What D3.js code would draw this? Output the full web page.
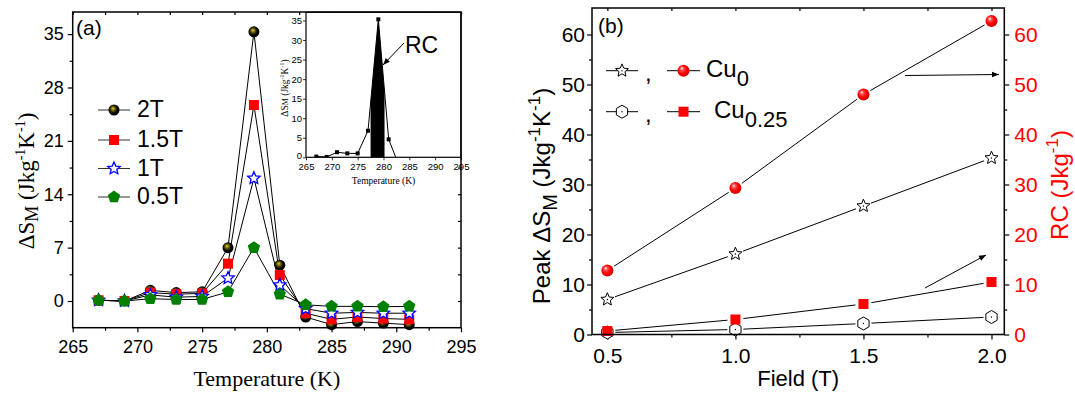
<!DOCTYPE html>
<html lang="en">
<head>
<meta charset="utf-8">
<title>Entropy change and RC</title>
<script src="https://d3js.org/d3.v7.min.js"></script>
<style>
  body { margin: 0; background: #fff; }
</style>
</head>
<body>
<script>

// ---- data, panel (a) ----
const tempA = [267, 269, 271, 273, 275, 277, 279, 281, 283, 285, 287, 289, 291];
const ds2T  = [0.1, 0, 1.4, 1.1, 1.2, 7.0, 35.3, 4.7, -2.1, -3.1, -2.7, -2.9, -3.1];
const ds15T = [0.1, 0, 1.1, 0.9, 1.0, 4.9, 25.7, 3.4, -1.6, -2.4, -2.1, -2.3, -2.4];
const ds1T  = [0.1, 0, 0.8, 0.5, 0.6, 3.0, 16.1, 2.1, -1.0, -1.6, -1.5, -1.6, -1.6];
const ds05T = [0.1, 0, 0.3, 0.2, 0.2, 1.2, 7.0, 0.9, -0.5, -0.7, -0.7, -0.75, -0.7];
const seriesNames = ["2T", "1.5T", "1T", "0.5T"];
const xTicksA = [265, 270, 275, 280, 285, 290, 295];
const yTicksA = [0, 7, 14, 21, 28, 35];

// inset (2T curve, RC area)
const tempIn = [267, 269, 271, 273, 275, 277, 279, 281, 283];
const dsIn   = [0.2, 0.1, 1.3, 1.0, 1.0, 6.8, 35.3, 4.6, -2.1];
const rcRange = [277.5, 280.2];
const yTicksIn = [0, 5, 10, 15, 20, 25, 30, 35];

// ---- data, panel (b) ----
const fields = [0.5, 1.0, 1.5, 2.0];
const peakCu0   = [7.0, 16.1, 25.7, 35.3];
const rcCu0     = [12.8, 29.3, 48.0, 62.7];
const peakCu025 = [0.4, 1.0, 2.2, 3.5];
const rcCu025   = [0.7, 3.0, 6.1, 10.5];
const xTicksB = [0.5, 1.0, 1.5, 2.0];
const yTicksB = [0, 10, 20, 30, 40, 50, 60];

const W = 1075, H = 394;
const SANS = "'Liberation Sans', Arial, sans-serif";
const SERIF = "'Liberation Serif', 'Times New Roman', serif";

const svg = d3.select("body").append("svg")
  .attr("width", W).attr("height", H)
  .attr("font-family", SANS);

const defs = svg.append("defs");

const gBlack = defs.append("radialGradient").attr("id", "ballBlack")
  .attr("cx", "45%").attr("cy", "45%").attr("r", "60%").attr("fx", "40%").attr("fy", "35%");
gBlack.append("stop").attr("offset", "0%").attr("stop-color", "#e6d640");
gBlack.append("stop").attr("offset", "30%").attr("stop-color", "#6a6000");
gBlack.append("stop").attr("offset", "65%").attr("stop-color", "#000");

const gRed = defs.append("radialGradient").attr("id", "ballRed")
  .attr("cx", "45%").attr("cy", "45%").attr("r", "60%").attr("fx", "35%").attr("fy", "30%");
gRed.append("stop").attr("offset", "0%").attr("stop-color", "#fff");
gRed.append("stop").attr("offset", "25%").attr("stop-color", "#ff5050");
gRed.append("stop").attr("offset", "60%").attr("stop-color", "#f00");
gRed.append("stop").attr("offset", "100%").attr("stop-color", "#c00");

defs.append("marker").attr("id", "arrow")
  .attr("viewBox", "0 0 10 10").attr("refX", 10).attr("refY", 5)
  .attr("markerWidth", 9).attr("markerHeight", 7).attr("markerUnits", "userSpaceOnUse")
  .attr("orient", "auto")
  .append("path").attr("d", "M0,1L10,5L0,9Z").attr("fill", "#000");

// shapes
function poly(n, r, rot) {
  const pts = d3.range(n).map(i => {
    const a = rot + i * 2 * Math.PI / n;
    return [r * Math.cos(a), r * Math.sin(a)];
  });
  return "M" + pts.map(p => p[0].toFixed(2) + "," + p[1].toFixed(2)).join("L") + "Z";
}
function star(r, ri) {
  const pts = d3.range(10).map(i => {
    const a = -Math.PI / 2 + i * Math.PI / 5;
    const rr = i % 2 ? ri : r;
    return [rr * Math.cos(a), rr * Math.sin(a)];
  });
  return "M" + pts.map(p => p[0].toFixed(2) + "," + p[1].toFixed(2)).join("L") + "Z";
}

function drawMarker(g, type, x, y, s) {
  const m = g.append("g").attr("transform", `translate(${x},${y})`);
  if (type === "ballBlack") {
    m.append("circle").attr("r", 5.5 * s).attr("fill", "url(#ballBlack)");
  } else if (type === "ballRed") {
    m.append("circle").attr("r", 6 * s).attr("fill", "url(#ballRed)");
  } else if (type === "square") {
    m.append("rect").attr("x", -5 * s).attr("y", -5 * s).attr("width", 10 * s).attr("height", 10 * s).attr("fill", "#f00");
  } else if (type === "starBlue") {
    m.append("path").attr("d", star(6.5 * s, 3 * s)).attr("fill", "#fff").attr("stroke", "#00f").attr("stroke-width", 1.3);
  } else if (type === "pentagon") {
    m.append("path").attr("d", poly(5, 6.5 * s, -Math.PI / 2)).attr("fill", "#008000");
  } else if (type === "starOpen") {
    m.append("path").attr("d", star(6.8 * s, 3.1 * s)).attr("fill", "#fff").attr("stroke", "#000").attr("stroke-width", 1);
    m.append("circle").attr("r", 0.7).attr("fill", "#000");
  } else if (type === "hexOpen") {
    m.append("path").attr("d", poly(6, 6.5 * s, -Math.PI / 2)).attr("fill", "#fff").attr("stroke", "#000").attr("stroke-width", 1);
    m.append("circle").attr("r", 0.7).attr("fill", "#000");
  }
}

function styleAxis(g, size, family, color) {
  g.select(".domain").remove();
  g.attr("font-size", size).attr("font-family", family);
  g.selectAll("line").attr("stroke", "#000").attr("stroke-width", 1.2);
  g.selectAll("text").attr("fill", color || "#000");
}

// ===================== panel (a) =====================
const A = {l: 72.7, r: 461, t: 12, b: 327.7};
const xA = d3.scaleLinear().domain([265, 295]).range([A.l, A.r]);
const yA = d3.scaleLinear().domain([-3.5, 37.9]).range([A.b, A.t]);
const minorXA = xTicksA.slice(0, -1).map(v => v + 2.5);
const minorYA = yTicksA.map(v => v + 3.5).filter(v => v < 37.9);

svg.append("g").attr("transform", `translate(0,${A.b})`)
  .call(d3.axisBottom(xA).tickValues(xTicksA).tickSize(4.5).tickSizeOuter(0).tickPadding(8).tickFormat(d3.format("d")))
  .call(g => styleAxis(g, 18, SANS));
svg.append("g").attr("transform", `translate(0,${A.b})`)
  .call(d3.axisBottom(xA).tickValues(minorXA).tickSize(3).tickSizeOuter(0).tickFormat(""))
  .call(g => styleAxis(g, 18, SANS));
svg.append("g").attr("transform", `translate(0,${A.t})`)
  .call(d3.axisTop(xA).tickValues(xTicksA.concat(minorXA)).tickSize(-3).tickSizeOuter(0).tickFormat(""))
  .call(g => styleAxis(g, 18, SANS));
svg.append("g").attr("transform", `translate(${A.l},0)`)
  .call(d3.axisLeft(yA).tickValues(yTicksA).tickSize(5).tickSizeOuter(0).tickPadding(4))
  .call(g => styleAxis(g, 18, SANS));
svg.append("g").attr("transform", `translate(${A.l},0)`)
  .call(d3.axisLeft(yA).tickValues(minorYA).tickSize(3).tickSizeOuter(0).tickFormat(""))
  .call(g => styleAxis(g, 18, SANS));
svg.append("g").attr("transform", `translate(${A.r},0)`)
  .call(d3.axisRight(yA).tickValues(yTicksA.concat(minorYA)).tickSize(-3).tickSizeOuter(0).tickFormat(""))
  .call(g => styleAxis(g, 18, SANS));

const seriesA = [
  {vals: ds2T, marker: "ballBlack"},
  {vals: ds15T, marker: "square"},
  {vals: ds1T, marker: "starBlue"},
  {vals: ds05T, marker: "pentagon"}
];
const lineA = d3.line().x(d => xA(d[0])).y(d => yA(d[1]));
const plotA = svg.append("g");
seriesA.forEach(s => {
  plotA.append("path").attr("d", lineA(tempA.map((t, i) => [t, s.vals[i]])))
    .attr("fill", "none").attr("stroke", "#000").attr("stroke-width", 1);
});
seriesA.forEach(s => {
  tempA.forEach((t, i) => drawMarker(plotA, s.marker, xA(t), yA(s.vals[i]), 1));
});

// legend (a)
const legA = svg.append("g");
seriesNames.forEach((name, i) => {
  const y = [110, 140, 168.5, 197][i];
  legA.append("line").attr("x1", 98).attr("x2", 130).attr("y1", y).attr("y2", y)
    .attr("stroke", "#333").attr("stroke-width", 1);
  drawMarker(legA, seriesA[i].marker, 114, y, 1);
  legA.append("text").attr("x", 137).attr("y", y + 7).attr("font-size", 23).text(name);
});

svg.append("text").attr("x", 76).attr("y", 35).attr("font-size", 21).text("(a)");

svg.append("text").attr("x", (A.l + A.r) / 2).attr("y", 386)
  .attr("text-anchor", "middle").attr("font-family", SERIF).attr("font-size", 22)
  .text("Temperature (K)");

const ylA = svg.append("text").attr("transform", "translate(34,181) rotate(-90)")
  .attr("text-anchor", "middle").attr("font-family", SERIF).attr("font-size", 23);
ylA.append("tspan").text("\u0394S");
ylA.append("tspan").attr("dy", 4).attr("font-size", 18).text("M");
ylA.append("tspan").attr("dy", -4).text(" (Jkg");
ylA.append("tspan").attr("dy", -9).attr("font-size", 14).text("-1");
ylA.append("tspan").attr("dy", 9).text("K");
ylA.append("tspan").attr("dy", -9).attr("font-size", 14).text("-1");
ylA.append("tspan").attr("dy", 9).text(")");

// ---- inset ----
const I = {l: 306, r: 461, t: 12.3, b: 157.3};
const xI = d3.scaleLinear().domain([265, 295]).range([I.l, I.r]);
const yI = d3.scaleLinear().domain([0, 37.1]).range([I.b, I.t]);

svg.append("rect").attr("x", I.l).attr("y", I.t).attr("width", I.r - I.l).attr("height", I.b - I.t)
  .attr("fill", "#fff");
defs.append("clipPath").attr("id", "clipIn").append("rect")
  .attr("x", I.l).attr("y", I.t).attr("width", I.r - I.l).attr("height", I.b - I.t);

const insetPts = tempIn.map((t, i) => [t, dsIn[i]]);
function interpIn(t) {
  const j = d3.bisectRight(tempIn, t) - 1;
  const f = (t - tempIn[j]) / (tempIn[j + 1] - tempIn[j]);
  return dsIn[j] + f * (dsIn[j + 1] - dsIn[j]);
}
const areaPts = [[rcRange[0], 0], [rcRange[0], interpIn(rcRange[0])]]
  .concat(insetPts.filter(p => p[0] > rcRange[0] && p[0] < rcRange[1]))
  .concat([[rcRange[1], interpIn(rcRange[1])], [rcRange[1], 0]]);
const lineI = d3.line().x(d => xI(d[0])).y(d => yI(d[1]));
const plotI = svg.append("g").attr("clip-path", "url(#clipIn)");
plotI.append("path").attr("d", lineI(areaPts) + "Z").attr("fill", "#000");
plotI.append("path").attr("d", lineI(insetPts)).attr("fill", "none").attr("stroke", "#000").attr("stroke-width", 1);
plotI.selectAll("rect.pt").data(insetPts).join("rect").attr("class", "pt")
  .attr("x", d => xI(d[0]) - 2).attr("y", d => yI(d[1]) - 2).attr("width", 4).attr("height", 4).attr("fill", "#000");

svg.append("g").attr("class", "inax").attr("transform", `translate(0,${I.b})`)
  .call(d3.axisBottom(xI).tickValues(xTicksA).tickSize(3).tickSizeOuter(0).tickPadding(2.5).tickFormat(d3.format("d")))
  .call(g => styleAxis(g, 9.5, SANS));
svg.append("g").attr("class", "inax").attr("transform", `translate(${I.l},0)`)
  .call(d3.axisLeft(yI).tickValues(yTicksIn).tickSize(3).tickSizeOuter(0).tickPadding(1))
  .call(g => styleAxis(g, 9.5, SANS));
svg.selectAll("g.inax line").attr("stroke-width", 0.8);
svg.selectAll("g.inax text").filter(d => d === 0).attr("dy", "0.1em");

svg.append("rect").attr("x", I.l).attr("y", I.t).attr("width", I.r - I.l).attr("height", I.b - I.t)
  .attr("fill", "none").attr("stroke", "#000").attr("stroke-width", 1.2);

svg.append("text").attr("x", (I.l + I.r) / 2).attr("y", 184)
  .attr("text-anchor", "middle").attr("font-family", SERIF).attr("font-size", 9.5)
  .text("Temperature (K)");
const ylI = svg.append("text").attr("transform", "translate(288,88) rotate(-90)")
  .attr("text-anchor", "middle").attr("font-family", SERIF).attr("font-size", 9.5);
ylI.append("tspan").text("\u0394S");
ylI.append("tspan").attr("font-size", 8).text("M");
ylI.append("tspan").text(" (Jkg");
ylI.append("tspan").attr("dy", -4).attr("font-size", 6).text("-1");
ylI.append("tspan").attr("dy", 4).text("K");
ylI.append("tspan").attr("dy", -4).attr("font-size", 6).text("-1");
ylI.append("tspan").attr("dy", 4).text(")");

svg.append("text").attr("x", 405).attr("y", 53).attr("font-size", 23).text("RC");
svg.append("line").attr("x1", 404).attr("y1", 43).attr("x2", 383).attr("y2", 65)
  .attr("stroke", "#000").attr("stroke-width", 1).attr("marker-end", "url(#arrow)");

svg.append("rect").attr("x", A.l).attr("y", A.t).attr("width", A.r - A.l).attr("height", A.b - A.t)
  .attr("fill", "none").attr("stroke", "#000").attr("stroke-width", 1.5);

// ===================== panel (b) =====================
const B = {l: 592, r: 1004.3, t: 8, b: 334.5};
const xB = d3.scaleLinear().domain([0.44, 2.05]).range([B.l, B.r]);
const yB = d3.scaleLinear().domain([0, 65.3]).range([B.b, B.t]);
const minorXB = [0.75, 1.25, 1.75];
const minorYB = yTicksB.map(v => v + 5).filter(v => v < 65);

svg.append("g").attr("transform", `translate(0,${B.b})`)
  .call(d3.axisBottom(xB).tickValues(xTicksB).tickSize(5).tickSizeOuter(0).tickPadding(9).tickFormat(d3.format(".1f")))
  .call(g => styleAxis(g, 21, SANS));
svg.append("g").attr("transform", `translate(0,${B.b})`)
  .call(d3.axisBottom(xB).tickValues(minorXB).tickSize(3).tickSizeOuter(0).tickFormat(""))
  .call(g => styleAxis(g, 21, SANS));
svg.append("g").attr("transform", `translate(0,${B.t})`)
  .call(d3.axisTop(xB).tickValues(xTicksB.concat(minorXB)).tickSize(-3).tickSizeOuter(0).tickFormat(""))
  .call(g => styleAxis(g, 21, SANS));
svg.append("g").attr("transform", `translate(${B.l},0)`)
  .call(d3.axisLeft(yB).tickValues(yTicksB).tickSize(5).tickSizeOuter(0).tickPadding(2))
  .call(g => styleAxis(g, 21, SANS));
svg.append("g").attr("transform", `translate(${B.l},0)`)
  .call(d3.axisLeft(yB).tickValues(minorYB).tickSize(3).tickSizeOuter(0).tickFormat(""))
  .call(g => styleAxis(g, 21, SANS));
svg.append("g").attr("transform", `translate(${B.r},0)`)
  .call(d3.axisRight(yB).tickValues(yTicksB).tickSize(5).tickSizeOuter(0).tickPadding(5))
  .call(g => styleAxis(g, 21, SANS, "#f00"));
svg.append("g").attr("transform", `translate(${B.r},0)`)
  .call(d3.axisRight(yB).tickValues(minorYB).tickSize(3).tickSizeOuter(0).tickFormat(""))
  .call(g => styleAxis(g, 21, SANS));

const seriesB = [
  {vals: rcCu0, marker: "ballRed"},
  {vals: peakCu0, marker: "starOpen"},
  {vals: rcCu025, marker: "square"},
  {vals: peakCu025, marker: "hexOpen"}
];
const plotB = svg.append("g");
const gap = 8;
seriesB.forEach(s => {
  for (let i = 0; i < fields.length - 1; i++) {
    const x1 = xB(fields[i]), y1 = yB(s.vals[i]);
    const x2 = xB(fields[i + 1]), y2 = yB(s.vals[i + 1]);
    const len = Math.hypot(x2 - x1, y2 - y1);
    const ux = (x2 - x1) / len, uy = (y2 - y1) / len;
    plotB.append("line")
      .attr("x1", x1 + ux * gap).attr("y1", y1 + uy * gap)
      .attr("x2", x2 - ux * gap).attr("y2", y2 - uy * gap)
      .attr("stroke", "#000").attr("stroke-width", 1);
  }
});
[3, 2, 1, 0].forEach(k => {
  const s = seriesB[k];
  fields.forEach((f, i) => drawMarker(plotB, s.marker, xB(f), yB(s.vals[i]), 1));
});

// arrows (b)
svg.append("line").attr("x1", 905).attr("y1", 75.5).attr("x2", 999).attr("y2", 74.5)
  .attr("stroke", "#000").attr("stroke-width", 1).attr("marker-end", "url(#arrow)");
svg.append("line").attr("x1", 925).attr("y1", 288).attr("x2", 986).attr("y2", 255)
  .attr("stroke", "#000").attr("stroke-width", 1).attr("marker-end", "url(#arrow)");

// legend (b)
const legB = svg.append("g");
[[70.7, "starOpen", "ballRed", "0", 706], [111.7, "hexOpen", "square", "0.25", 714]].forEach(r => {
  const y = r[0];
  legB.append("line").attr("x1", 606).attr("x2", 638).attr("y1", y).attr("y2", y).attr("stroke", "#000").attr("stroke-width", 1);
  drawMarker(legB, r[1], 622, y, 1);
  legB.append("text").attr("x", 645).attr("y", y + 10).attr("font-size", 24).text(",");
  legB.append("line").attr("x1", 667).attr("x2", 700).attr("y1", y).attr("y2", y).attr("stroke", "#000").attr("stroke-width", 1);
  drawMarker(legB, r[2], 683.5, y, 1);
  const t = legB.append("text").attr("x", r[4]).attr("y", y + 6).attr("font-size", 24);
  t.append("tspan").text("Cu");
  t.append("tspan").attr("dy", 9).attr("font-size", 22).text(r[3]);
});

svg.append("text").attr("x", 598).attr("y", 33).attr("font-size", 21).text("(b)");

svg.append("text").attr("x", (B.l + B.r) / 2).attr("y", 386)
  .attr("text-anchor", "middle").attr("font-size", 22).text("Field (T)");

const ylB = svg.append("text").attr("transform", "translate(550,196) rotate(-90)")
  .attr("text-anchor", "middle").attr("font-size", 24);
ylB.append("tspan").text("Peak \u0394S");
ylB.append("tspan").attr("dy", 7).attr("font-size", 20).text("M");
ylB.append("tspan").attr("dy", -7).text(" (Jkg");
ylB.append("tspan").attr("dy", -10).attr("font-size", 17).text("-1");
ylB.append("tspan").attr("dy", 10).text("K");
ylB.append("tspan").attr("dy", -10).attr("font-size", 17).text("-1");
ylB.append("tspan").attr("dy", 10).text(")");

const ylR = svg.append("text").attr("transform", "translate(1068,185) rotate(-90)")
  .attr("text-anchor", "middle").attr("font-size", 24).attr("fill", "#f00");
ylR.append("tspan").text("RC (Jkg");
ylR.append("tspan").attr("dy", -10).attr("font-size", 17).text("-1");
ylR.append("tspan").attr("dy", 10).text(")");

svg.append("rect").attr("x", B.l).attr("y", B.t).attr("width", B.r - B.l).attr("height", B.b - B.t)
  .attr("fill", "none").attr("stroke", "#000").attr("stroke-width", 1.5);

</script>
</body>
</html>
